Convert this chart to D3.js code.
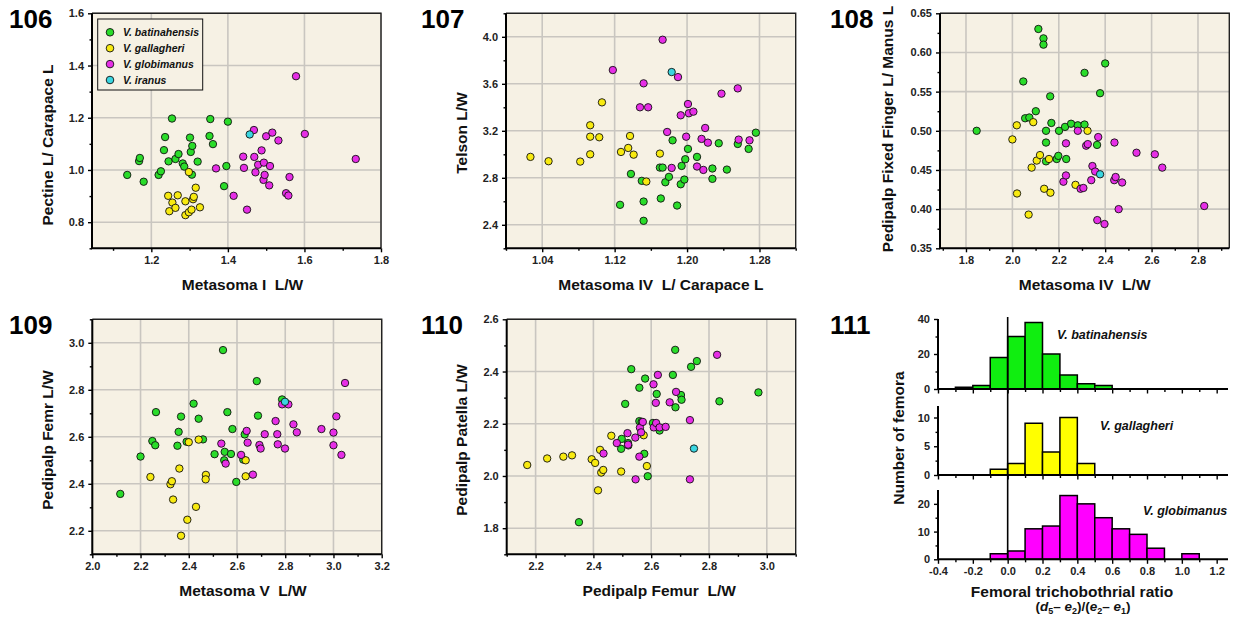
<!DOCTYPE html>
<html>
<head>
<meta charset="utf-8">
<script src="https://cdn.jsdelivr.net/npm/d3@7"></script>
<style>
  body { margin: 0; background: #fff; }
  text { font-family: "Liberation Sans", Arial, sans-serif; }
</style>
</head>
<body>
<script>
// Species and their colours
const speciesNames = ["V. batinahensis", "V. gallagheri", "V. globimanus", "V. iranus"];
const speciesColors = ["#2adc2a", "#f8ea10", "#e62ee6", "#3ad6e0"];
const histColors = ["#10ee10", "#ffff00", "#ff00ff"];

// 106: Metasoma I L/W vs Pectine L/ Carapace L
const p106Bat = [[1.137,0.981],[1.168,1.034],[1.17,1.046],[1.18,0.955],[1.219,0.981],[1.225,0.995],[1.233,1.076],[1.236,1.126],[1.245,1.033],[1.254,1.197],[1.263,1.042],[1.271,1.061],[1.282,1.025],[1.286,1.013],[1.301,1.124],[1.303,1.069],[1.307,1.092],[1.306,0.982],[1.321,1.032],[1.352,1.130],[1.354,1.195],[1.361,1.099],[1.39,0.938],[1.396,1.015],[1.40,1.185]];
const p106Gal = [[1.244,0.901],[1.247,0.842],[1.255,0.875],[1.263,0.855],[1.269,0.903],[1.289,0.880],[1.289,0.827],[1.298,0.992],[1.298,0.838],[1.305,0.848],[1.309,0.888],[1.311,0.897],[1.316,0.932],[1.327,0.857]];
const p106Glo = [[1.369,1.006],[1.415,0.901],[1.44,1.051],[1.442,1.008],[1.45,0.848],[1.468,1.153],[1.469,1.05],[1.472,0.991],[1.479,1.02],[1.488,1.075],[1.493,0.962],[1.494,1.028],[1.496,0.981],[1.50,1.129],[1.508,0.941],[1.51,1.015],[1.516,1.143],[1.532,1.113],[1.552,0.911],[1.558,0.902],[1.561,0.973],[1.578,1.359],[1.601,1.138],[1.734,1.042]];
const p106Ira = [[1.457,1.136]];

// 107: Metasoma IV L/ Carapace L vs Telson L/W
const p107Bat = [[1.126,2.570],[1.138,2.833],[1.15,2.774],[1.152,2.598],[1.152,2.434],[1.171,2.624],[1.17,2.887],[1.173,2.887],[1.176,2.762],[1.18,2.808],[1.184,3.119],[1.189,2.564],[1.193,2.745],[1.194,2.901],[1.197,2.785],[1.198,2.958],[1.201,3.046],[1.211,2.978],[1.228,2.879],[1.228,2.791],[1.235,3.094],[1.244,2.87],[1.256,3.088],[1.268,3.046],[1.276,3.184]];
const p107Gal = [[1.027,2.978],[1.047,2.941],[1.082,2.938],[1.093,3.247],[1.093,3.150],[1.093,3.0],[1.103,3.145],[1.106,3.442],[1.127,3.02],[1.135,3.054],[1.137,3.156],[1.141,2.997],[1.155,2.768],[1.17,3.006]];
const p107Glo = [[1.118,3.717],[1.148,3.40],[1.152,3.604],[1.157,3.40],[1.173,3.975],[1.178,3.19],[1.183,2.884],[1.19,3.657],[1.193,3.332],[1.199,3.15],[1.201,3.428],[1.202,3.349],[1.207,3.363],[1.211,2.896],[1.216,3.131],[1.218,2.867],[1.22,3.224],[1.223,3.099],[1.238,3.516],[1.256,3.561],[1.257,3.125],[1.269,3.119]];
const p107Ira = [[1.183,3.70]];

// 108: Metasoma IV L/W vs Pedipalp Fixed Finger L/ Manus L
const p108Bat = [[1.846,0.500],[2.047,0.563],[2.055,0.516],[2.073,0.517],[2.101,0.525],[2.112,0.630],[2.134,0.618],[2.134,0.610],[2.145,0.500],[2.145,0.485],[2.145,0.461],[2.163,0.544],[2.168,0.510],[2.191,0.464],[2.198,0.468],[2.201,0.500],[2.227,0.505],[2.232,0.464],[2.253,0.509],[2.282,0.507],[2.311,0.508],[2.311,0.574],[2.365,0.482],[2.378,0.548],[2.40,0.586]];
const p108Gal = [[2.0,0.489],[2.019,0.507],[2.02,0.420],[2.09,0.511],[2.07,0.393],[2.083,0.453],[2.105,0.462],[2.119,0.469],[2.137,0.426],[2.158,0.464],[2.164,0.421],[2.272,0.431],[2.324,0.500]];
const p108Glo = [[2.231,0.484],[2.22,0.435],[2.231,0.443],[2.282,0.50],[2.294,0.426],[2.306,0.427],[2.318,0.481],[2.325,0.483],[2.34,0.437],[2.345,0.455],[2.357,0.448],[2.37,0.492],[2.366,0.386],[2.397,0.381],[2.44,0.485],[2.439,0.437],[2.445,0.441],[2.458,0.400],[2.473,0.434],[2.535,0.472],[2.614,0.470],[2.646,0.453],[2.827,0.404]];
const p108Ira = [[2.378,0.4445]];

// 109: Metasoma V L/W vs Pedipalp Femr L/W
const p109Bat = [[2.116,2.357],[2.2,2.516],[2.249,2.582],[2.261,2.564],[2.264,2.705],[2.353,2.562],[2.358,2.621],[2.368,2.686],[2.391,2.579],[2.42,2.741],[2.441,2.677],[2.459,2.589],[2.507,2.526],[2.542,2.969],[2.549,2.536],[2.547,2.50],[2.56,2.705],[2.575,2.527],[2.581,2.633],[2.597,2.408],[2.626,2.503],[2.632,2.61],[2.682,2.837],[2.687,2.69],[2.787,2.759]];
const p109Gal = [[2.241,2.429],[2.324,2.398],[2.33,2.411],[2.335,2.333],[2.361,2.465],[2.368,2.179],[2.394,2.247],[2.40,2.577],[2.43,2.302],[2.441,2.588],[2.471,2.438],[2.47,2.419],[2.636,2.5],[2.636,2.432]];
const p109Glo = [[2.535,2.571],[2.553,2.486],[2.617,2.523],[2.64,2.625],[2.644,2.575],[2.666,2.439],[2.693,2.565],[2.698,2.55],[2.715,2.611],[2.76,2.667],[2.767,2.611],[2.769,2.568],[2.787,2.738],[2.799,2.55],[2.813,2.738],[2.834,2.653],[2.848,2.619],[2.95,2.633],[3.0,2.618],[3.0,2.564],[3.012,2.687],[3.033,2.523],[3.048,2.829]];
const p109Ira = [[2.799,2.749]];

// 110: Pedipalp Femur L/W vs Pedipalp Patella L/W
const p110Bat = [[2.35,1.823],[2.496,2.104],[2.498,2.142],[2.51,2.276],[2.52,2.126],[2.521,2.117],[2.531,2.409],[2.559,2.338],[2.559,2.21],[2.567,2.207],[2.576,2.085],[2.579,2.373],[2.588,1.999],[2.606,2.203],[2.619,2.314],[2.629,2.174],[2.675,2.387],[2.684,2.263],[2.683,2.483],[2.703,2.31],[2.705,2.292],[2.738,2.418],[2.758,2.44],[2.836,2.286],[2.971,2.32]];
const p110Gal = [[2.171,2.042],[2.24,2.067],[2.296,2.074],[2.326,2.079],[2.394,2.064],[2.406,2.05],[2.416,1.945],[2.423,2.1],[2.427,2.013],[2.434,2.023],[2.462,2.154],[2.496,2.017],[2.574,2.156],[2.585,2.038]];
const p110Glo = [[2.435,2.086],[2.481,2.126],[2.518,2.164],[2.52,2.12],[2.545,2.147],[2.546,1.987],[2.559,2.074],[2.561,2.185],[2.565,2.167],[2.571,2.207],[2.608,2.351],[2.609,2.186],[2.616,2.28],[2.617,2.203],[2.623,2.387],[2.629,2.186],[2.65,2.188],[2.664,2.282],[2.686,2.322],[2.734,2.214],[2.734,1.987],[2.828,2.464]];
const p110Ira = [[2.748,2.105]];

// 111: histograms of femoral trichobothrial ratio
const binStarts = [-0.3,-0.2,-0.1,0.0,0.1,0.2,0.3,0.4,0.5,0.6,0.7,0.8,0.9,1.0];
const binWidth = 0.1;
const batCounts = [1,2,18,30,38,20,8,3,2,0,0,0,0,0];
const galCounts = [0,0,1,2,9,4,10,2,0,0,0,0,0,0];
const gloCounts = [0,0,2,3,11,12,23,20,15,11,9,4,0,2];
const histXTicks = [-0.4,-0.2,0.0,0.2,0.4,0.6,0.8,1.0,1.2];

const svg = d3.select("body").append("svg")
    .attr("width", 1235)
    .attr("height", 617);

// plain hyphen for negative labels, like the original figure
const fmt = spec => { const f = d3.format(spec); return d => f(d).replace("\u2212", "-"); };

function styleAxis(sel) {
    sel.select(".domain").attr("stroke", "#000").attr("stroke-width", 2);
    sel.selectAll(".tick line").attr("stroke", "#000").attr("stroke-width", 1.4);
    sel.selectAll(".tick text")
        .attr("fill", "#222")
        .style("font-size", "11px")
        .style("font-weight", "bold");
}

function minorTicks(ticks, dom) {
    const step = ticks[1] - ticks[0];
    const out = [];
    for (let v = ticks[0] - step / 2; v <= dom[1] + 1e-9; v += step) {
        if (v >= dom[0] - 1e-9) out.push(v);
    }
    return out;
}

function scatterPanel(cfg) {
    const g = svg.append("g");
    const x = d3.scaleLinear().domain(cfg.xDom).range([cfg.left, cfg.right]);
    const y = d3.scaleLinear().domain(cfg.yDom).range([cfg.bottom, cfg.top]);

    g.append("rect")
        .attr("x", cfg.left).attr("y", cfg.top)
        .attr("width", cfg.right - cfg.left).attr("height", cfg.bottom - cfg.top)
        .attr("fill", "#f6f1e4");

    // grid at major ticks
    g.selectAll(".gx").data(cfg.xTicks).enter().append("line")
        .attr("x1", d => x(d)).attr("x2", d => x(d))
        .attr("y1", cfg.top).attr("y2", cfg.bottom)
        .attr("stroke", "#c9c6c0").attr("stroke-width", 1.6);
    g.selectAll(".gy").data(cfg.yTicks).enter().append("line")
        .attr("x1", cfg.left).attr("x2", cfg.right)
        .attr("y1", d => y(d)).attr("y2", d => y(d))
        .attr("stroke", "#c9c6c0").attr("stroke-width", 1.6);

    // top and right frame
    g.append("path")
        .attr("d", `M${cfg.left},${cfg.top}H${cfg.right}V${cfg.bottom}`)
        .attr("fill", "none").attr("stroke", "#222").attr("stroke-width", 1.4);

    // points
    cfg.series.forEach((pts, i) => {
        g.selectAll(null).data(pts).enter().append("circle")
            .attr("cx", d => x(d[0]))
            .attr("cy", d => y(d[1]))
            .attr("r", 3.7)
            .attr("fill", speciesColors[i])
            .attr("stroke", "#111")
            .attr("stroke-width", 0.9);
    });

    // axes
    const xa = g.append("g").attr("transform", `translate(0,${cfg.bottom})`);
    xa.call(d3.axisBottom(x).tickValues(minorTicks(cfg.xTicks, cfg.xDom)).tickFormat("").tickSize(2.5).tickSizeOuter(0));
    xa.append("g").call(d3.axisBottom(x).tickValues(cfg.xTicks).tickFormat(fmt(cfg.xFmt)).tickSize(4).tickSizeOuter(0).tickPadding(4));
    xa.selectAll("g .domain").remove();
    styleAxis(xa);

    const ya = g.append("g").attr("transform", `translate(${cfg.left},0)`);
    ya.call(d3.axisLeft(y).tickValues(minorTicks(cfg.yTicks, cfg.yDom)).tickFormat("").tickSize(2.5).tickSizeOuter(0));
    ya.append("g").call(d3.axisLeft(y).tickValues(cfg.yTicks).tickFormat(fmt(cfg.yFmt)).tickSize(4).tickSizeOuter(0).tickPadding(4));
    ya.selectAll("g .domain").remove();
    styleAxis(ya);

    // bottom and left axis lines on top
    g.append("path")
        .attr("d", `M${cfg.left},${cfg.top}V${cfg.bottom}H${cfg.right}`)
        .attr("fill", "none").attr("stroke", "#000").attr("stroke-width", 2);

    g.append("text")
        .attr("x", (cfg.left + cfg.right) / 2 + (cfg.xTitleDx || 0))
        .attr("y", cfg.bottom + 42)
        .attr("text-anchor", "middle")
        .style("font-size", "15.5px").style("font-weight", "bold").attr("fill", "#111")
        .attr("xml:space", "preserve")
        .text(cfg.xTitle);

    g.append("text")
        .attr("transform", `translate(${cfg.yTitleX},${cfg.yTitleY}) rotate(-90)`)
        .attr("text-anchor", "middle")
        .attr("dy", "0.35em")
        .style("font-size", "15.5px").style("font-weight", "bold").attr("fill", "#111")
        .text(cfg.yTitle);

    g.append("text")
        .attr("x", cfg.numX).attr("y", cfg.top + 15)
        .style("font-size", "26px").style("font-weight", "bold").attr("fill", "#000")
        .text(cfg.num);
    return { g, x, y };
}

const topT = 13.3, topB = 248.3, botT = 319.3, botB = 554.3;

const p106 = scatterPanel({
    num: "106", numX: 9,
    left: 92, right: 381, top: topT, bottom: topB,
    xDom: [1.045, 1.8], yDom: [0.7, 1.6],
    xTicks: [1.2, 1.4, 1.6, 1.8], yTicks: [0.8, 1.0, 1.2, 1.4, 1.6],
    xFmt: ".1f", yFmt: ".1f",
    xTitle: "Metasoma I  L/W", xTitleDx: 6,
    yTitle: "Pectine L/ Carapace L", yTitleX: 48, yTitleY: 145,
    series: [p106Bat, p106Gal, p106Glo, p106Ira]
});

scatterPanel({
    num: "107", numX: 421,
    left: 506, right: 795.7, top: topT, bottom: topB,
    xDom: [1.0, 1.32], yDom: [2.2, 4.2],
    xTicks: [1.04, 1.12, 1.20, 1.28], yTicks: [2.4, 2.8, 3.2, 3.6, 4.0],
    xFmt: ".2f", yFmt: ".1f",
    xTitle: "Metasoma IV  L/ Carapace L", xTitleDx: 10,
    yTitle: "Telson L/W", yTitleX: 462, yTitleY: 133,
    series: [p107Bat, p107Gal, p107Glo, p107Ira]
});

scatterPanel({
    num: "108", numX: 830,
    left: 940, right: 1229.3, top: topT, bottom: topB,
    xDom: [1.688, 2.935], yDom: [0.35, 0.65],
    xTicks: [1.8, 2.0, 2.2, 2.4, 2.6, 2.8], yTicks: [0.35, 0.40, 0.45, 0.50, 0.55, 0.60, 0.65],
    xFmt: ".1f", yFmt: ".2f",
    xTitle: "Metasoma IV  L/W", xTitleDx: 0,
    yTitle: "Pedipalp Fixed Finger L/ Manus L", yTitleX: 888, yTitleY: 129,
    series: [p108Bat, p108Gal, p108Glo, p108Ira]
});

scatterPanel({
    num: "109", numX: 9,
    left: 92.3, right: 381.7, top: botT, bottom: botB,
    xDom: [2.0, 3.2], yDom: [2.1, 3.1],
    xTicks: [2.0, 2.2, 2.4, 2.6, 2.8, 3.0, 3.2], yTicks: [2.2, 2.4, 2.6, 2.8, 3.0],
    xFmt: ".1f", yFmt: ".1f",
    xTitle: "Metasoma V  L/W", xTitleDx: 6,
    yTitle: "Pedipalp Femr L/W", yTitleX: 48, yTitleY: 440,
    series: [p109Bat, p109Gal, p109Glo, p109Ira]
});

scatterPanel({
    num: "110", numX: 421,
    left: 506.7, right: 795.7, top: botT, bottom: botB,
    xDom: [2.1, 3.1], yDom: [1.7, 2.6],
    xTicks: [2.2, 2.4, 2.6, 2.8, 3.0], yTicks: [1.8, 2.0, 2.2, 2.4, 2.6],
    xFmt: ".1f", yFmt: ".1f",
    xTitle: "Pedipalp Femur  L/W", xTitleDx: 8,
    yTitle: "Pedipalp Patella L/W", yTitleX: 462, yTitleY: 440,
    series: [p110Bat, p110Gal, p110Glo, p110Ira]
});

// legend in panel 106
const leg = p106.g.append("g");
leg.append("rect")
    .attr("x", 97.7).attr("y", 19).attr("width", 105).attr("height", 71)
    .attr("fill", "#f6f1e4").attr("stroke", "#111").attr("stroke-width", 1);
speciesNames.forEach((name, i) => {
    leg.append("circle")
        .attr("cx", 110).attr("cy", 32.3 + i * 15.9).attr("r", 3.8)
        .attr("fill", speciesColors[i]).attr("stroke", "#111").attr("stroke-width", 0.9);
    leg.append("text")
        .attr("x", 123).attr("y", 32.3 + i * 15.9).attr("dy", "0.35em")
        .style("font-size", "10.5px").style("font-weight", "bold").style("font-style", "italic")
        .attr("fill", "#111")
        .text(name);
});

// 111 histograms
const hx = d3.scaleLinear().domain([-0.4, 1.265]).range([938, 1228]);
const hists = [
    { counts: batCounts, dom: [0, 40], top: 319, bottom: 389, ticks: [0, 20, 40], minor: [10, 30], label: speciesNames[0], lx: 1057 },
    { counts: galCounts, dom: [0, 12], top: 406, bottom: 475, ticks: [0, 5, 10], minor: [2.5, 7.5], label: speciesNames[1], lx: 1100 },
    { counts: gloCounts, dom: [0, 25], top: 490, bottom: 559.3, ticks: [0, 10, 20], minor: [5, 15], label: speciesNames[2], lx: 1143 }
];
const hg = svg.append("g");
hists.forEach((h, i) => {
    const y = d3.scaleLinear().domain(h.dom).range([h.bottom, h.top]);
    const bins = binStarts.map((b, j) => ({ x0: b, n: h.counts[j] })).filter(d => d.n > 0);
    hg.selectAll(null).data(bins).enter().append("rect")
        .attr("x", d => hx(d.x0))
        .attr("width", d => hx(d.x0 + binWidth) - hx(d.x0))
        .attr("y", d => y(d.n))
        .attr("height", d => y(0) - y(d.n))
        .attr("fill", histColors[i])
        .attr("stroke", "#000").attr("stroke-width", 1.5);

    const xa = hg.append("g").attr("transform", `translate(0,${h.bottom})`);
    const minorX = [-0.3, -0.1, 0.1, 0.3, 0.5, 0.7, 0.9, 1.1];
    xa.call(d3.axisBottom(hx).tickValues(minorX).tickFormat("").tickSize(3).tickSizeOuter(0));
    xa.append("g").call(d3.axisBottom(hx).tickValues(histXTicks)
        .tickFormat(i === 2 ? fmt(".1f") : "").tickSize(4.5).tickSizeOuter(0).tickPadding(3));
    xa.selectAll("g .domain").remove();
    styleAxis(xa);
    xa.append("line").attr("x1", hx.range()[0]).attr("x2", hx.range()[1])
        .attr("stroke", "#000").attr("stroke-width", 2);

    const ya = hg.append("g").attr("transform", `translate(${hx.range()[0]},0)`);
    ya.call(d3.axisLeft(y).tickValues(h.minor).tickFormat("").tickSize(2.5).tickSizeOuter(0));
    ya.append("g").call(d3.axisLeft(y).tickValues(h.ticks).tickFormat(d3.format("d")).tickSize(4).tickSizeOuter(0).tickPadding(4));
    ya.selectAll("g .domain").remove();
    styleAxis(ya);
    ya.append("line").attr("y1", h.top).attr("y2", h.bottom)
        .attr("stroke", "#000").attr("stroke-width", 2);

    hg.append("text")
        .attr("x", h.lx).attr("y", (h.top + h.bottom) / 2 + (i === 0 ? -19 : i === 1 ? -15 : -14))
        .attr("dy", "0.35em")
        .style("font-size", "12.5px").style("font-weight", "bold").style("font-style", "italic")
        .attr("fill", "#111")
        .text(h.label);
});

// zero line across the three histograms
hg.append("line")
    .attr("x1", hx(0)).attr("x2", hx(0))
    .attr("y1", 317).attr("y2", 559.3)
    .attr("stroke", "#000").attr("stroke-width", 1.6);

hg.append("text")
    .attr("x", 830).attr("y", botT + 15)
    .style("font-size", "26px").style("font-weight", "bold")
    .text("111");

hg.append("text")
    .attr("transform", "translate(899,438) rotate(-90)")
    .attr("text-anchor", "middle").attr("dy", "0.35em")
    .style("font-size", "15.5px").style("font-weight", "bold").attr("fill", "#111")
    .text("Number of femora");

hg.append("text")
    .attr("x", 1072).attr("y", 597)
    .attr("text-anchor", "middle")
    .style("font-size", "15.5px").style("font-weight", "bold").attr("fill", "#111")
    .text("Femoral trichobothrial ratio");

// (d5 – e2)/(e2 – e1)
const f = hg.append("text")
    .attr("x", 1083).attr("y", 611)
    .attr("text-anchor", "middle")
    .style("font-size", "13.5px").style("font-weight", "bold").attr("fill", "#111");
const parts = [
    ["(", null], ["d", "i"], ["5", "s"], ["\u2013 ", null], ["e", "i"], ["2", "s"],
    [")/(", null], ["e", "i"], ["2", "s"], ["\u2013 ", null], ["e", "i"], ["1", "s"], [")", null]
];
let sub = false;
parts.forEach(([t, k]) => {
    const ts = f.append("tspan").text(t);
    if (k === "i") ts.style("font-style", "italic");
    if (k === "s") { ts.style("font-size", "9px").attr("dy", 3); sub = true; }
    else if (sub) { ts.attr("dy", -3); sub = false; }
});
</script>
</body>
</html>
